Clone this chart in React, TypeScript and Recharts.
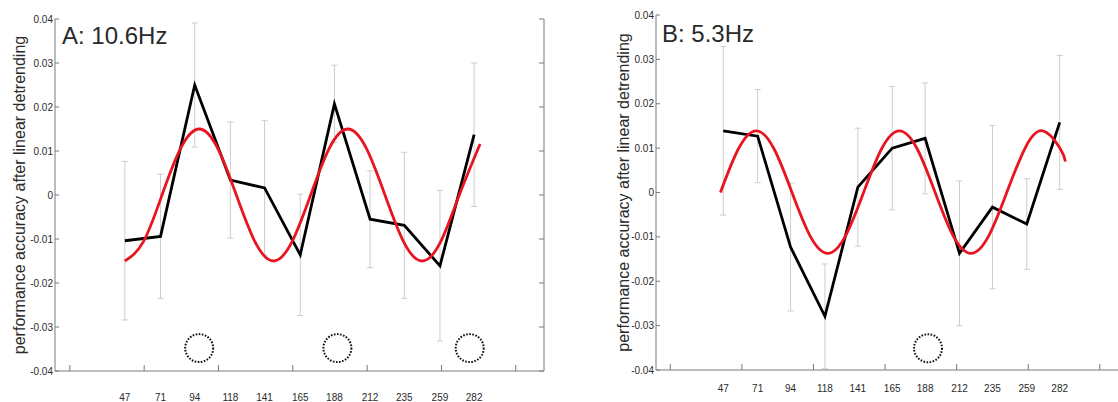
import React from 'react';
import { LineChart, Line, XAxis, YAxis, ErrorBar, ReferenceDot } from 'recharts';

// ---- data ----
const TIMES = [47, 71, 94, 118, 141, 165, 188, 212, 235, 259, 282];
const TIME_LABELS = ['47', '71', '94', '118', '141', '165', '188', '212', '235', '259', '282'];
const TICK_MARKS = [10, 60, 110, 160, 210, 260, 310];
const Y_TICKS = [-0.04, -0.03, -0.02, -0.01, 0, 0.01, 0.02, 0.03, 0.04];

const A_MEAN = [-0.0104, -0.0094, 0.025, 0.0034, 0.0016, -0.0136, 0.0207, -0.0055, -0.0069, -0.0161, 0.0137];
const A_ERR = [0.018, 0.0141, 0.0141, 0.0132, 0.0153, 0.0138, 0.0088, 0.011, 0.0166, 0.0171, 0.0163];
const A_FIT_T = [47, 59.5, 72, 84.5, 97, 109.5, 122, 134.5, 147, 159.5, 172, 184.5, 197, 209.5, 222, 234.5, 247, 259.5, 272, 286];
const A_FIT_V = [-0.015, -0.0106, 0, 0.0106, 0.015, 0.0106, 0, -0.0106, -0.015, -0.0106, 0, 0.0106, 0.015, 0.0106, 0, -0.0106, -0.015, -0.0106, 0, 0.0116];
const A_CIRCLE_T = [97, 190, 279];
const A_CIRCLE_V = [-0.0348, -0.0348, -0.0348];

const B_MEAN = [0.0139, 0.0127, -0.0123, -0.0279, 0.0012, 0.01, 0.0122, -0.0137, -0.0033, -0.0071, 0.0158];
const B_ERR = [0.019, 0.0105, 0.0144, 0.0118, 0.0133, 0.0139, 0.0125, 0.0163, 0.0184, 0.0102, 0.0151];
const B_FIT_T = [45, 57.5, 70, 82.5, 95, 107.5, 120, 132.5, 145, 157.5, 170, 182.5, 195, 207.5, 220, 232.5, 245, 257.5, 270, 282.5, 286];
const B_FIT_V = [0, 0.0098, 0.0139, 0.0098, 0, -0.0097, -0.0137, -0.0097, 0, 0.0098, 0.0139, 0.0098, 0, -0.0097, -0.0137, -0.0097, 0, 0.0098, 0.0139, 0.0098, 0.007];
const B_CIRCLE_T = [190];
const B_CIRCLE_V = [-0.0351];

const Y_LABEL = 'performance accuracy after linear detrending';

// ---- styles ----
const FONT = '"Liberation Sans", Arial, Helvetica, sans-serif';
const AXIS = '#7a7a7a';
const TEXT = '#2a2a2a';
const RED = '#e8141f';
const ERRC = '#cdcdcd';

type PanelProps = {
  left: number;
  width: number;
  plotLeft: number;
  plotTop: number;
  plotBottom: number;
  plotRight: number;
  mean: number[];
  err: number[];
  fitT: number[];
  fitV: number[];
  circleT: number[];
  circleV: number[];
  title: string;
  titleX: number;
  titleY: number;
  yLabelX: number;
  xLabelOffset: number;
};

const YTitle = (props: any) => {
  const { viewBox, cx } = props;
  const cy = viewBox.y + viewBox.height / 2;
  return (
    <text
      x={cx}
      y={cy}
      transform={`rotate(-90, ${cx}, ${cy})`}
      textAnchor="middle"
      dominantBaseline="central"
      fontSize={16}
      fontFamily={FONT}
      fill={TEXT}
    >
      {Y_LABEL}
    </text>
  );
};

function Panel(p: PanelProps) {
  const H = 402;
  const data = TIMES.map((t, i) => ({ t, mean: p.mean[i], err: p.err[i] }));
  const fit = p.fitT.map((t, i) => ({ t, v: p.fitV[i] }));
  const domainX: [number, number] = [0, 329];
  const xTicks = [...TICK_MARKS, ...TIMES];

  const bottomTick = (props: any) => {
    const { x, y, payload } = props;
    const v = payload.value;
    if (TICK_MARKS.includes(v)) {
      return <line x1={x} x2={x} y1={y} y2={y - 6} stroke={AXIS} strokeWidth={1} />;
    }
    const idx = TIMES.indexOf(v);
    return (
      <text x={x} y={y + p.xLabelOffset} textAnchor="middle" fontSize={10} fontFamily={FONT} fill={TEXT}>
        {TIME_LABELS[idx]}
      </text>
    );
  };
  const topTick = (props: any) => {
    const { x, y } = props;
    return <line x1={x} x2={x} y1={y} y2={y + 5} stroke={AXIS} strokeWidth={1} />;
  };
  const leftTick = (props: any) => {
    const { x, y, payload } = props;
    return (
      <g>
        <line x1={x} x2={x + 4} y1={y} y2={y} stroke={AXIS} strokeWidth={1} />
        <text x={x - 2} y={y} dy="0.35em" textAnchor="end" fontSize={10} fontFamily={FONT} fill={TEXT}>
          {String(payload.value)}
        </text>
      </g>
    );
  };
  const rightTick = (props: any) => {
    const { x, y } = props;
    return <line x1={x} x2={x - 5} y1={y} y2={y} stroke={AXIS} strokeWidth={1} />;
  };

  return (
    <div style={{ position: 'absolute', left: p.left, top: 0, width: p.width, height: H }}>
      <LineChart
        width={p.width}
        height={H}
        data={data}
        margin={{ top: p.plotTop, right: p.width - p.plotRight - 10, bottom: 0, left: 0 }}
      >
        <XAxis
          dataKey="t"
          type="number"
          domain={domainX}
          allowDataOverflow
          ticks={xTicks}
          interval={0}
          height={H - p.plotBottom}
          tickSize={0}
          tickMargin={0}
          tickLine={false}
          tick={bottomTick}
          axisLine={{ stroke: AXIS, strokeWidth: 1 }}
        />
        <XAxis
          xAxisId="top"
          orientation="top"
          dataKey="t"
          type="number"
          domain={domainX}
          allowDataOverflow
          ticks={TICK_MARKS}
          interval={0}
          height={0}
          tickSize={0}
          tickMargin={0}
          tickLine={false}
          tick={topTick}
          axisLine={{ stroke: AXIS, strokeWidth: 1 }}
        />
        <YAxis
          type="number"
          domain={[-0.04, 0.04]}
          allowDataOverflow
          ticks={Y_TICKS}
          interval={0}
          width={p.plotLeft}
          tickSize={0}
          tickMargin={0}
          tickLine={false}
          tick={leftTick}
          axisLine={{ stroke: AXIS, strokeWidth: 1 }}
          label={<YTitle cx={p.yLabelX} />}
        />
        <YAxis
          yAxisId="r"
          orientation="right"
          type="number"
          domain={[-0.04, 0.04]}
          allowDataOverflow
          ticks={Y_TICKS}
          interval={0}
          width={10}
          tickSize={0}
          tickMargin={0}
          tickLine={false}
          tick={rightTick}
          axisLine={{ stroke: AXIS, strokeWidth: 1 }}
        />
        <Line
          dataKey="mean"
          stroke="none"
          dot={false}
          activeDot={false}
          isAnimationActive={false}
        >
          <ErrorBar dataKey="err" width={3} stroke={ERRC} strokeWidth={1} isAnimationActive={false} />
        </Line>
        <Line
          dataKey="mean"
          type="linear"
          stroke="#000"
          strokeWidth={2.8}
          dot={false}
          activeDot={false}
          isAnimationActive={false}
        />
        <Line
          data={fit}
          dataKey="v"
          type="natural"
          stroke={RED}
          strokeWidth={2.8}
          dot={false}
          activeDot={false}
          isAnimationActive={false}
        />
        {p.circleT.map((t, i) => (
          <ReferenceDot
            key={i}
            x={t}
            y={p.circleV[i]}
            r={14}
            fill="none"
            stroke="#111"
            strokeWidth={2}
            strokeDasharray="1.6 1.5"
            ifOverflow="visible"
          />
        ))}
      </LineChart>
      <div
        style={{
          position: 'absolute',
          left: p.titleX,
          top: p.titleY,
          fontFamily: FONT,
          fontSize: 24,
          color: TEXT,
          lineHeight: '24px',
          whiteSpace: 'nowrap',
        }}
      >
        {p.title}
      </div>
    </div>
  );
}

export default function App() {
  return (
    <div
      style={{
        position: 'absolute',
        left: 0,
        top: 0,
        width: 1118,
        height: 402,
        overflow: 'hidden',
        background: '#fff',
      }}
    >
      <Panel
        left={0}
        width={560}
        plotLeft={55}
        plotTop={19}
        plotBottom={371}
        plotRight={544}
        mean={A_MEAN}
        err={A_ERR}
        fitT={A_FIT_T}
        fitV={A_FIT_V}
        circleT={A_CIRCLE_T}
        circleV={A_CIRCLE_V}
        title="A: 10.6Hz"
        titleX={62}
        titleY={24}
        yLabelX={19}
        xLabelOffset={29.5}
      />
      <Panel
        left={570}
        width={580}
        plotLeft={86}
        plotTop={15}
        plotBottom={370}
        plotRight={557}
        mean={B_MEAN}
        err={B_ERR}
        fitT={B_FIT_T}
        fitV={B_FIT_V}
        circleT={B_CIRCLE_T}
        circleV={B_CIRCLE_V}
        title="B: 5.3Hz"
        titleX={92}
        titleY={22}
        yLabelX={53}
        xLabelOffset={21.5}
      />
    </div>
  );
}
